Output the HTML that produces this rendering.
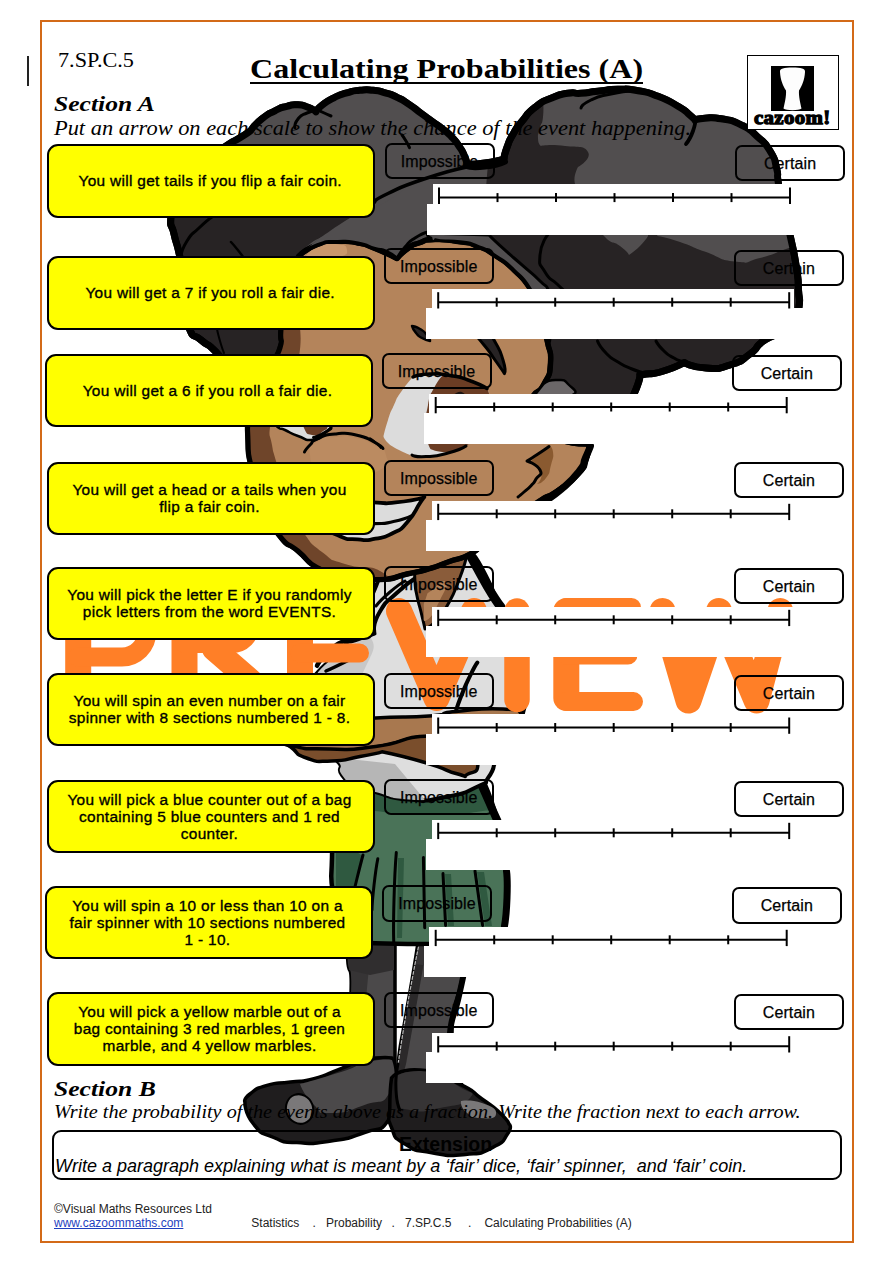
<!DOCTYPE html>
<html><head><meta charset="utf-8"><title>Calculating Probabilities (A)</title>
<style>
html,body{margin:0;padding:0;background:#fff;}
body{width:892px;height:1263px;position:relative;overflow:hidden;font-family:"Liberation Sans",sans-serif;color:#000;}
.abs,.w,.lb,.yb,.sc{position:absolute;}
.frame{left:40px;top:20px;width:809.5px;height:1219px;border:2px solid #d36a18;}
.w{background:#fff;}
.lb{width:106px;height:32.3px;border:2px solid #000;border-radius:7px;font-size:16px;line-height:33.5px;text-align:center;-webkit-text-stroke:0.25px #000;letter-spacing:0.1px;white-space:nowrap;}
.yb{width:324px;height:69.5px;border:2px solid #000;border-radius:11px;background:#ffff00;display:flex;align-items:center;justify-content:center;text-align:center;font-size:15.4px;line-height:17px;-webkit-text-stroke:0.35px #000;letter-spacing:0.33px;white-space:nowrap;}
.ser{font-family:"Liberation Serif",serif;white-space:nowrap;transform-origin:0 0;}
.t{white-space:nowrap;}
</style></head><body>
<svg class="abs" id="char" style="left:0;top:0" width="892" height="1263" viewBox="0 0 892 1263"><g stroke-linejoin="round" stroke-linecap="round">
<path d="M347.7 935.0C347.7 935.0 395.0 935.0 395.0 935.0C395.0 935.0 395.0 951.0 395.0 1000.0C395.0 1049.0 395.0 1082.0 395.0 1082.0C395.0 1082.0 395.0 1092.3 380.0 1100.0C365.0 1107.7 366.7 1108.3 350.0 1105.0C333.3 1101.7 330.0 1090.0 330.0 1090.0C330.0 1090.0 337.0 1100.0 344.0 1068.0C351.0 1036.0 349.8 1030.0 351.0 994.0C352.2 958.0 348.8 979.7 347.7 960.0C346.6 940.3 347.7 935.0 347.7 935.0Z" fill="#4b494a" stroke="#000" stroke-width="3.5" />
<path d="M347.7 940.0C347.7 940.0 372.0 940.0 372.0 940.0C372.0 940.0 369.3 963.3 366.0 1000.0C362.7 1036.7 369.0 1025.0 362.0 1050.0C355.0 1075.0 345.0 1075.0 345.0 1075.0C345.0 1075.0 342.0 1095.0 344.0 1068.0C346.0 1041.0 349.8 1030.0 351.0 994.0C352.2 958.0 348.8 978.0 347.7 960.0C346.6 942.0 347.7 940.0 347.7 940.0Z" fill="#363435" stroke="none" />
<path d="M418.4 940.0C418.4 940.0 470.0 940.0 470.0 940.0C470.0 940.0 468.0 948.0 462.0 979.0C456.0 1010.0 452.0 997.7 452.0 1033.0C452.0 1068.3 462.0 1085.0 462.0 1085.0C462.0 1085.0 451.3 1098.3 430.0 1100.0C408.7 1101.7 398.0 1090.0 398.0 1090.0C398.0 1090.0 395.7 1088.1 398.0 1064.8C400.3 1041.5 400.3 1048.3 405.0 1020.0C409.7 991.7 407.5 1006.7 412.0 980.0C416.5 953.3 418.4 940.0 418.4 940.0Z" fill="#4b494a" stroke="#000" stroke-width="3.5" />
<path d="M418.4 945.0 L427.0 945.0 L420.0 985.0 L413.0 1025.0 L406.0 1064.0 L399.0 1090.0 L398.0 1064.8 L405.0 1020.0 L412.0 980.0Z" fill="#2b292a" stroke="none"/>
<path d="M419.0 944.0 L470.0 944.0 L466.0 962.0 L440.0 968.0 L416.0 964.0Z" fill="#363435" stroke="none"/>
<path d="M463.5 975.0C463.5 975.0 462.5 980.7 458.0 1000.0C453.5 1019.3 452.0 1013.0 450.0 1033.0C448.0 1053.0 452.0 1060.0 452.0 1060.0" fill="none" stroke="#000" stroke-width="6" />
<path d="M418.4 947.0C418.4 947.0 416.5 955.7 412.0 980.0C407.5 1004.3 409.7 991.7 405.0 1020.0C400.3 1048.3 398.0 1064.8 398.0 1064.8" fill="none" stroke="#bbb" stroke-width="1.2" stroke-dasharray="3 2"/>
<path d="M348.0 942.0 L394.0 942.0 L394.0 970.0 L370.0 975.0 L349.0 970.0Z" fill="#302e2f" stroke="none"/>
<path d="M245.0 1102.0C245.0 1102.0 242.7 1099.5 250.0 1094.0C257.3 1088.5 253.5 1089.4 267.0 1085.4C280.5 1081.4 274.8 1084.2 290.5 1082.0C306.2 1079.8 297.2 1083.2 314.0 1078.7C330.8 1074.2 324.2 1074.8 341.0 1068.6C357.8 1062.4 347.5 1063.5 364.5 1060.0C381.5 1056.5 392.0 1058.0 392.0 1058.0C392.0 1058.0 393.3 1073.1 392.0 1094.0C390.7 1114.9 397.2 1107.9 388.0 1120.7C378.8 1133.5 383.5 1125.7 364.5 1132.5C345.5 1139.3 353.5 1137.6 331.0 1141.0C308.5 1144.4 316.1 1143.8 297.0 1142.6C277.9 1141.4 288.2 1143.7 273.7 1137.5C259.2 1131.3 263.1 1135.8 253.5 1124.0C243.9 1112.2 245.0 1102.0 245.0 1102.0Z" fill="#1f1d1e" stroke="#000" stroke-width="3.5" />
<path d="M300.0 1084.0C300.0 1084.0 318.3 1079.3 341.0 1072.0C363.7 1064.7 351.0 1066.0 368.0 1062.0C385.0 1058.0 392.0 1060.0 392.0 1060.0C392.0 1060.0 399.2 1077.0 390.0 1092.0C380.8 1107.0 384.2 1098.0 364.5 1105.0C344.8 1112.0 347.8 1113.0 331.0 1113.0C314.2 1113.0 324.3 1114.7 314.0 1105.0C303.7 1095.3 300.0 1084.0 300.0 1084.0Z" fill="#4b494a" stroke="none" />
<ellipse cx="299.6" cy="1109" rx="13.5" ry="15" fill="#7a7879" stroke="#000" stroke-width="2" transform="rotate(-20 299.6 1109)"/>
<path d="M391.5 1078.0C391.5 1078.0 397.6 1068.1 420.0 1070.0C442.4 1071.9 438.0 1074.0 458.7 1083.7C479.4 1093.4 468.6 1089.6 482.0 1099.0C495.4 1108.4 490.0 1103.7 499.0 1112.0C508.0 1120.3 509.0 1124.0 509.0 1124.0C509.0 1124.0 513.0 1126.1 507.5 1134.0C502.0 1141.9 506.4 1140.8 492.4 1147.6C478.4 1154.4 485.7 1152.7 465.5 1154.4C445.3 1156.1 452.0 1156.2 431.8 1152.7C411.6 1149.2 418.4 1152.4 405.0 1144.0C391.6 1135.6 396.6 1139.8 391.5 1127.5C386.4 1115.2 389.8 1123.5 389.8 1107.0C389.8 1090.5 391.5 1078.0 391.5 1078.0Z" fill="#1f1d1e" stroke="#000" stroke-width="3.5" />
<path d="M398.0 1075.0C398.0 1075.0 410.0 1068.3 430.0 1072.0C450.0 1075.7 444.7 1077.3 458.0 1086.0C471.3 1094.7 476.0 1090.7 470.0 1098.0C464.0 1105.3 460.0 1104.0 440.0 1108.0C420.0 1112.0 424.0 1112.7 410.0 1110.0C396.0 1107.3 402.0 1111.7 398.0 1100.0C394.0 1088.3 398.0 1075.0 398.0 1075.0Z" fill="#363435" stroke="none" />
<path d="M461.0 1101.0C461.0 1101.0 470.3 1098.7 482.0 1103.0C493.7 1107.3 496.7 1109.0 496.0 1114.0C495.3 1119.0 490.0 1118.7 480.0 1118.0C470.0 1117.3 472.3 1117.7 466.0 1112.0C459.7 1106.3 461.0 1101.0 461.0 1101.0Z" fill="#7a7879" stroke="none" />
<path d="M398.0 1064.0C398.0 1064.0 395.3 1074.7 396.0 1090.0C396.7 1105.3 400.0 1110.0 400.0 1110.0" fill="none" stroke="#000" stroke-width="3" />
<path d="M347.0 780.0C347.0 780.0 480.0 775.0 480.0 775.0C480.0 775.0 488.2 787.3 497.0 819.3C505.8 851.3 503.8 835.8 506.5 871.0C509.2 906.2 506.5 901.7 505.0 925.0C503.5 948.3 502.0 941.0 502.0 941.0C502.0 941.0 472.3 944.0 420.0 944.0C367.7 944.0 345.0 941.0 345.0 941.0C345.0 941.0 338.3 928.0 334.0 900.0C329.7 872.0 331.3 887.0 332.0 857.0C332.7 827.0 331.0 835.7 336.0 810.0C341.0 784.3 347.0 780.0 347.0 780.0Z" fill="#4a7358" stroke="#000" stroke-width="4.5" />
<clipPath id="sk"><path d="M347.0 780.0C347.0 780.0 480.0 775.0 480.0 775.0C480.0 775.0 488.2 787.3 497.0 819.3C505.8 851.3 503.8 835.8 506.5 871.0C509.2 906.2 506.5 901.7 505.0 925.0C503.5 948.3 502.0 941.0 502.0 941.0C502.0 941.0 472.3 944.0 420.0 944.0C367.7 944.0 345.0 941.0 345.0 941.0C345.0 941.0 338.3 928.0 334.0 900.0C329.7 872.0 331.3 887.0 332.0 857.0C332.7 827.0 331.0 835.7 336.0 810.0C341.0 784.3 347.0 780.0 347.0 780.0Z"/></clipPath>
<g clip-path="url(#sk)">
<path d="M330.0 770.0C330.0 770.0 500.0 770.0 500.0 770.0C500.0 770.0 498.3 792.3 492.5 806.0C486.7 819.7 502.4 808.2 482.6 811.0C462.8 813.8 468.9 814.5 433.0 814.5C397.1 814.5 406.0 814.5 375.0 811.0C344.0 807.5 355.0 817.7 340.0 804.0C325.0 790.3 330.0 770.0 330.0 770.0Z" fill="#2f5940" stroke="none" />
<path d="M336.0 845.0C336.0 845.0 343.3 846.3 352.0 850.0C360.7 853.7 362.0 856.0 362.0 856.0C362.0 856.0 360.0 865.3 356.0 880.0C352.0 894.7 356.7 893.3 350.0 900.0C343.3 906.7 336.0 900.0 336.0 900.0C336.0 900.0 336.0 845.0 336.0 845.0Z" fill="#2f5940" stroke="none" />
</g>
<path d="M363.0 855.0C363.0 855.0 360.7 863.5 357.0 878.5C353.3 893.5 352.0 900.0 352.0 900.0" fill="none" stroke="#000" stroke-width="3" />
<path d="M377.8 858.8C377.8 858.8 375.9 868.3 374.0 885.4C372.1 902.5 372.0 910.0 372.0 910.0" fill="none" stroke="#000" stroke-width="3" />
<path d="M396.3 852.6C396.3 852.6 394.8 870.0 394.0 900.0C393.2 930.0 393.8 942.6 393.8 942.6" fill="none" stroke="#000" stroke-width="3" />
<path d="M423.4 857.5C423.4 857.5 424.7 927.8 424.7 927.8" fill="none" stroke="#000" stroke-width="3" />
<path d="M443.0 873.6C443.0 873.6 445.6 925.4 445.6 925.4" fill="none" stroke="#000" stroke-width="3" />
<path d="M475.0 871.0C475.0 871.0 482.6 925.4 482.6 925.4" fill="none" stroke="#000" stroke-width="3" />
<path d="M481.0 784.0C481.0 784.0 483.5 789.7 489.0 802.0C494.5 814.3 497.5 821.0 497.5 821.0" fill="none" stroke="#000" stroke-width="8" />
<path d="M506.5 871.0C506.5 871.0 507.7 879.7 507.0 898.0C506.3 916.3 504.5 926.0 504.5 926.0" fill="none" stroke="#000" stroke-width="7" />
<path d="M398.0 858.0 L404.0 858.0 L402.0 938.0 L397.0 938.0Z" fill="#2f5940" stroke="none"/>
<path d="M445.0 874.0 L451.0 874.0 L454.0 926.0 L448.0 926.0Z" fill="#2f5940" stroke="none"/>
<path d="M477.0 872.0 L484.0 872.0 L492.0 926.0 L485.0 926.0Z" fill="#2f5940" stroke="none"/>
<path d="M380.0 575.0C380.0 575.0 376.7 586.7 365.0 610.0C353.3 633.3 360.7 624.3 345.0 645.0C329.3 665.7 334.3 653.7 318.0 672.0C301.7 690.3 307.3 683.3 296.0 700.0C284.7 716.7 284.0 722.0 284.0 722.0C284.0 722.0 292.7 735.3 310.0 748.0C327.3 760.7 325.3 751.0 336.0 760.0C346.7 769.0 335.3 766.3 342.0 775.0C348.7 783.7 344.8 780.3 356.0 786.0C367.2 791.7 358.0 787.5 375.5 792.0C393.0 796.5 385.2 797.8 408.6 799.5C432.0 801.2 422.6 801.3 445.6 797.0C468.6 792.7 463.6 792.8 477.7 786.5C491.8 780.2 482.6 785.2 488.0 778.0C493.4 770.8 494.0 765.0 494.0 765.0C494.0 765.0 498.3 757.3 508.0 740.0C517.7 722.7 518.7 729.7 523.0 713.0C527.3 696.3 525.0 711.0 521.0 690.0C517.0 669.0 518.9 678.7 511.0 650.0C503.1 621.3 505.6 628.7 497.3 604.0C489.0 579.3 494.2 592.8 486.0 576.0C477.8 559.2 472.6 553.6 472.6 553.6C472.6 553.6 460.9 552.9 430.0 560.0C399.1 567.1 380.0 575.0 380.0 575.0Z" fill="#dedede" stroke="#000" stroke-width="4" />
<clipPath id="sh"><path d="M380.0 575.0C380.0 575.0 376.7 586.7 365.0 610.0C353.3 633.3 360.7 624.3 345.0 645.0C329.3 665.7 334.3 653.7 318.0 672.0C301.7 690.3 307.3 683.3 296.0 700.0C284.7 716.7 284.0 722.0 284.0 722.0C284.0 722.0 292.7 735.3 310.0 748.0C327.3 760.7 325.3 751.0 336.0 760.0C346.7 769.0 335.3 766.3 342.0 775.0C348.7 783.7 344.8 780.3 356.0 786.0C367.2 791.7 358.0 787.5 375.5 792.0C393.0 796.5 385.2 797.8 408.6 799.5C432.0 801.2 422.6 801.3 445.6 797.0C468.6 792.7 463.6 792.8 477.7 786.5C491.8 780.2 482.6 785.2 488.0 778.0C493.4 770.8 494.0 765.0 494.0 765.0C494.0 765.0 498.3 757.3 508.0 740.0C517.7 722.7 518.7 729.7 523.0 713.0C527.3 696.3 525.0 711.0 521.0 690.0C517.0 669.0 518.9 678.7 511.0 650.0C503.1 621.3 505.6 628.7 497.3 604.0C489.0 579.3 494.2 592.8 486.0 576.0C477.8 559.2 472.6 553.6 472.6 553.6C472.6 553.6 460.9 552.9 430.0 560.0C399.1 567.1 380.0 575.0 380.0 575.0Z"/></clipPath>
<g clip-path="url(#sh)">
<path d="M300.0 740.0 L339.5 758.0 L395.0 764.0 L425.0 800.0 L340.0 805.0 L300.0 770.0Z" fill="#b6b6b6" stroke="none"/>
<path d="M318.0 672.0C318.0 672.0 327.0 660.7 345.0 650.0C363.0 639.3 367.0 630.0 372.0 640.0C377.0 650.0 370.7 653.3 360.0 680.0C349.3 706.7 361.3 703.3 340.0 720.0C318.7 736.7 303.3 746.0 296.0 730.0C288.7 714.0 318.0 672.0 318.0 672.0Z" fill="#c8c8c8" stroke="none" />
</g>
<path d="M419.0 576.0C419.0 576.0 410.7 580.3 397.6 592.3C384.5 604.3 387.5 598.9 379.7 612.0C371.9 625.1 374.3 631.7 374.3 631.7" fill="none" stroke="#000" stroke-width="4" />
<path d="M405.0 581.0C405.0 581.0 399.7 583.7 390.0 592.0C380.3 600.3 376.0 606.0 376.0 606.0" fill="none" stroke="#000" stroke-width="3" />
<path d="M374.3 633.5C374.3 633.5 368.2 635.8 355.0 640.0C341.8 644.2 347.5 637.4 334.8 646.0C322.1 654.6 317.0 665.8 317.0 665.8" fill="none" stroke="#000" stroke-width="4.5" />
<path d="M362.0 653.0C362.0 653.0 357.0 656.0 345.0 662.0C333.0 668.0 326.0 671.0 326.0 671.0" fill="none" stroke="#000" stroke-width="3.5" />
<path d="M470.0 555.0C470.0 555.0 473.7 562.0 481.0 575.0C488.3 588.0 485.3 583.3 492.0 594.0C498.7 604.7 501.0 607.0 501.0 607.0" fill="none" stroke="#000" stroke-width="9" />
<path d="M477.4 662.6C477.4 662.6 475.1 665.5 470.0 676.0C464.9 686.5 466.7 682.3 462.0 694.0C457.3 705.7 456.0 711.0 456.0 711.0" fill="none" stroke="#000" stroke-width="4" />
<path d="M415.0 566.0C415.0 566.0 467.0 554.0 467.0 554.0C467.0 554.0 465.7 562.7 459.0 580.0C452.3 597.3 454.7 592.3 447.0 606.0C439.3 619.7 443.3 613.3 436.0 621.0C428.7 628.7 425.0 629.0 425.0 629.0C425.0 629.0 423.7 623.0 421.0 612.0C418.3 601.0 419.0 606.0 417.0 596.0C415.0 586.0 415.7 592.0 415.0 582.0C414.3 572.0 415.0 566.0 415.0 566.0Z" fill="#8a5c3a" stroke="#000" stroke-width="3" />
<path d="M432.0 590.0C438.7 584.7 443.3 578.7 446.0 582.0C448.7 585.3 446.3 587.3 440.0 600.0C433.7 612.7 432.3 616.7 427.0 620.0C421.7 623.3 424.3 617.3 424.0 610.0C423.7 602.7 423.3 604.7 426.0 598.0C428.7 591.3 425.3 595.3 432.0 590.0Z" fill="#b4845b" stroke="none" />
<path d="M285.0 726.0C285.0 726.0 299.8 724.7 330.0 722.0C360.2 719.3 342.5 720.0 375.5 718.0C408.5 716.0 402.2 718.2 429.0 716.0C455.8 713.8 431.3 713.8 456.0 711.5C480.7 709.2 480.7 707.8 503.0 709.0C525.3 710.2 514.0 708.0 523.0 715.0C532.0 722.0 532.7 719.0 530.0 730.0C527.3 741.0 535.0 743.3 515.0 748.0C495.0 752.7 498.3 747.8 470.0 744.0C441.7 740.2 461.5 735.5 430.0 736.5C398.5 737.5 408.8 742.5 375.5 747.0C342.2 751.5 358.5 750.3 330.0 750.0C301.5 749.7 308.0 751.7 290.0 746.0C272.0 740.3 277.7 739.7 276.0 733.0C274.3 726.3 285.0 726.0 285.0 726.0Z" fill="#a8784f" stroke="#000" stroke-width="3.5" />
<path d="M276.0 735.0C276.0 735.0 280.6 739.3 290.8 747.0C301.0 754.7 292.9 753.3 306.5 758.0C320.1 762.7 313.8 761.5 331.6 761.0C349.4 760.5 343.2 759.6 360.0 756.5C376.8 753.4 382.0 751.8 382.0 751.8C382.0 751.8 400.8 755.5 425.8 762.8C450.8 770.1 442.9 770.1 457.0 773.8C471.1 777.5 461.0 777.3 468.0 774.0C475.0 770.7 477.3 774.0 478.0 764.0C478.7 754.0 486.0 753.3 470.0 744.0C454.0 734.7 461.5 735.2 430.0 736.0C398.5 736.8 408.8 742.2 375.5 746.5C342.2 750.8 358.5 749.5 330.0 749.0C301.5 748.5 308.0 749.7 290.0 745.0C272.0 740.3 276.0 735.0 276.0 735.0Z" fill="#7a4e2c" stroke="#000" stroke-width="3.5" />
<path d="M174.0 234.0C171.3 221.7 169.7 230.0 171.0 216.0C172.3 202.0 168.3 208.7 178.0 192.0C187.7 175.3 184.7 180.9 200.0 166.0C215.3 151.1 210.7 156.7 224.0 147.3C237.3 137.9 231.0 143.5 240.0 137.8C249.0 132.1 251.0 130.3 251.0 130.3C251.0 130.3 254.0 125.3 262.0 118.8C270.0 112.3 266.7 115.0 275.0 110.8C283.3 106.6 279.3 108.3 287.0 106.3C294.7 104.3 291.0 104.5 298.0 104.8C305.0 105.1 302.0 105.0 308.0 107.3C314.0 109.6 316.0 111.8 316.0 111.8C316.0 111.8 316.0 110.0 322.0 105.3C328.0 100.6 325.7 102.0 334.0 97.8C342.3 93.6 338.3 95.3 347.0 92.8C355.7 90.3 351.3 91.1 360.0 90.3C368.7 89.5 364.7 89.5 373.0 90.3C381.3 91.1 377.0 90.5 385.0 92.8C393.0 95.1 389.0 93.5 397.0 97.3C405.0 101.1 401.0 99.0 409.0 104.3C417.0 109.6 413.3 107.6 421.0 113.3C428.7 119.0 424.7 116.0 432.0 121.3C439.3 126.6 436.3 124.0 443.0 129.3C449.7 134.6 446.7 131.6 452.0 137.3C457.3 143.0 455.0 140.4 459.0 146.3C463.0 152.2 461.3 149.1 464.0 155.0C466.7 160.9 467.0 164.0 467.0 164.0C467.0 164.0 472.7 164.7 485.0 163.0C497.3 161.3 504.0 159.0 504.0 159.0C504.0 159.0 504.0 155.5 507.0 147.3C510.0 139.1 508.0 143.0 513.0 134.3C518.0 125.6 514.7 130.3 522.0 121.3C529.3 112.3 525.3 115.0 535.0 107.3C544.7 99.6 540.0 103.0 551.0 98.3C562.0 93.6 558.0 95.0 568.0 93.3C578.0 91.6 571.0 94.0 581.0 93.3C591.0 92.6 585.7 92.6 598.0 91.3C610.3 90.0 604.7 89.5 618.0 89.3C631.3 89.1 624.7 88.5 638.0 90.8C651.3 93.1 644.7 91.1 658.0 96.3C671.3 101.5 667.3 100.0 678.0 106.3C688.7 112.6 684.3 110.6 690.0 115.3C695.7 120.0 695.0 120.3 695.0 120.3C695.0 120.3 696.3 118.8 705.0 118.3C713.7 117.8 709.0 116.6 721.0 118.8C733.0 121.0 729.0 119.0 741.0 124.8C753.0 130.6 747.3 127.6 757.0 136.3C766.7 145.0 763.5 140.4 770.0 151.0C776.5 161.6 773.7 157.0 776.5 168.0C779.3 179.0 776.0 170.0 778.5 184.0C781.0 198.0 780.2 193.0 784.0 210.0C787.8 227.0 785.8 215.7 790.0 235.0C794.2 254.3 793.7 249.7 796.5 268.0C799.3 286.3 797.7 277.0 798.5 290.0C799.3 303.0 800.5 296.7 799.0 307.0C797.5 317.3 801.0 312.3 794.0 321.0C787.0 329.7 788.7 326.0 778.0 333.0C767.3 340.0 771.3 335.0 762.0 342.0C752.7 349.0 760.7 346.3 750.0 354.0C739.3 361.7 744.7 360.3 730.0 365.0C715.3 369.7 721.2 368.8 706.0 368.0C690.8 367.2 684.4 362.5 684.4 362.5C684.4 362.5 674.8 367.7 662.0 371.5C649.2 375.3 653.3 372.8 646.0 374.0C638.7 375.2 640.0 375.0 640.0 375.0C640.0 375.0 640.7 379.0 634.0 394.0C627.3 409.0 636.3 404.7 620.0 420.0C603.7 435.3 625.0 430.0 585.0 440.0C545.0 450.0 561.7 450.0 500.0 450.0C438.3 450.0 466.7 453.3 400.0 440.0C333.3 426.7 350.0 427.3 300.0 410.0C250.0 392.7 272.7 400.7 250.0 388.0C227.3 375.3 243.3 384.0 232.0 372.0C220.7 360.0 226.3 362.7 216.0 352.0C205.7 341.3 209.8 347.7 201.0 340.0C192.2 332.3 194.5 340.7 189.5 329.0C184.5 317.3 188.2 323.0 186.0 305.0C183.8 287.0 185.3 292.3 183.0 275.0C180.7 257.7 182.0 266.7 179.0 253.0C176.0 239.3 176.7 246.3 174.0 234.0Z" fill="#272324" stroke="#000" stroke-width="7" />
<clipPath id="hc"><path d="M174.0 234.0C171.3 221.7 169.7 230.0 171.0 216.0C172.3 202.0 168.3 208.7 178.0 192.0C187.7 175.3 184.7 180.9 200.0 166.0C215.3 151.1 210.7 156.7 224.0 147.3C237.3 137.9 231.0 143.5 240.0 137.8C249.0 132.1 251.0 130.3 251.0 130.3C251.0 130.3 254.0 125.3 262.0 118.8C270.0 112.3 266.7 115.0 275.0 110.8C283.3 106.6 279.3 108.3 287.0 106.3C294.7 104.3 291.0 104.5 298.0 104.8C305.0 105.1 302.0 105.0 308.0 107.3C314.0 109.6 316.0 111.8 316.0 111.8C316.0 111.8 316.0 110.0 322.0 105.3C328.0 100.6 325.7 102.0 334.0 97.8C342.3 93.6 338.3 95.3 347.0 92.8C355.7 90.3 351.3 91.1 360.0 90.3C368.7 89.5 364.7 89.5 373.0 90.3C381.3 91.1 377.0 90.5 385.0 92.8C393.0 95.1 389.0 93.5 397.0 97.3C405.0 101.1 401.0 99.0 409.0 104.3C417.0 109.6 413.3 107.6 421.0 113.3C428.7 119.0 424.7 116.0 432.0 121.3C439.3 126.6 436.3 124.0 443.0 129.3C449.7 134.6 446.7 131.6 452.0 137.3C457.3 143.0 455.0 140.4 459.0 146.3C463.0 152.2 461.3 149.1 464.0 155.0C466.7 160.9 467.0 164.0 467.0 164.0C467.0 164.0 472.7 164.7 485.0 163.0C497.3 161.3 504.0 159.0 504.0 159.0C504.0 159.0 504.0 155.5 507.0 147.3C510.0 139.1 508.0 143.0 513.0 134.3C518.0 125.6 514.7 130.3 522.0 121.3C529.3 112.3 525.3 115.0 535.0 107.3C544.7 99.6 540.0 103.0 551.0 98.3C562.0 93.6 558.0 95.0 568.0 93.3C578.0 91.6 571.0 94.0 581.0 93.3C591.0 92.6 585.7 92.6 598.0 91.3C610.3 90.0 604.7 89.5 618.0 89.3C631.3 89.1 624.7 88.5 638.0 90.8C651.3 93.1 644.7 91.1 658.0 96.3C671.3 101.5 667.3 100.0 678.0 106.3C688.7 112.6 684.3 110.6 690.0 115.3C695.7 120.0 695.0 120.3 695.0 120.3C695.0 120.3 696.3 118.8 705.0 118.3C713.7 117.8 709.0 116.6 721.0 118.8C733.0 121.0 729.0 119.0 741.0 124.8C753.0 130.6 747.3 127.6 757.0 136.3C766.7 145.0 763.5 140.4 770.0 151.0C776.5 161.6 773.7 157.0 776.5 168.0C779.3 179.0 776.0 170.0 778.5 184.0C781.0 198.0 780.2 193.0 784.0 210.0C787.8 227.0 785.8 215.7 790.0 235.0C794.2 254.3 793.7 249.7 796.5 268.0C799.3 286.3 797.7 277.0 798.5 290.0C799.3 303.0 800.5 296.7 799.0 307.0C797.5 317.3 801.0 312.3 794.0 321.0C787.0 329.7 788.7 326.0 778.0 333.0C767.3 340.0 771.3 335.0 762.0 342.0C752.7 349.0 760.7 346.3 750.0 354.0C739.3 361.7 744.7 360.3 730.0 365.0C715.3 369.7 721.2 368.8 706.0 368.0C690.8 367.2 684.4 362.5 684.4 362.5C684.4 362.5 674.8 367.7 662.0 371.5C649.2 375.3 653.3 372.8 646.0 374.0C638.7 375.2 640.0 375.0 640.0 375.0C640.0 375.0 640.7 379.0 634.0 394.0C627.3 409.0 636.3 404.7 620.0 420.0C603.7 435.3 625.0 430.0 585.0 440.0C545.0 450.0 561.7 450.0 500.0 450.0C438.3 450.0 466.7 453.3 400.0 440.0C333.3 426.7 350.0 427.3 300.0 410.0C250.0 392.7 272.7 400.7 250.0 388.0C227.3 375.3 243.3 384.0 232.0 372.0C220.7 360.0 226.3 362.7 216.0 352.0C205.7 341.3 209.8 347.7 201.0 340.0C192.2 332.3 194.5 340.7 189.5 329.0C184.5 317.3 188.2 323.0 186.0 305.0C183.8 287.0 185.3 292.3 183.0 275.0C180.7 257.7 182.0 266.7 179.0 253.0C176.0 239.3 176.7 246.3 174.0 234.0Z"/></clipPath>
<g clip-path="url(#hc)">
<path d="M200.0 150.0C200.0 150.0 196.7 140.0 230.0 120.0C263.3 100.0 243.3 101.7 300.0 90.0C356.7 78.3 340.0 68.3 400.0 85.0C460.0 101.7 450.3 115.7 480.0 140.0C509.7 164.3 489.0 158.0 489.0 158.0C489.0 158.0 487.7 164.0 486.0 190.0C484.3 216.0 484.0 236.0 484.0 236.0C484.0 236.0 458.0 228.7 430.0 236.0C402.0 243.3 426.0 256.7 400.0 258.0C374.0 259.3 377.0 247.3 352.0 240.0C327.0 232.7 342.7 230.7 325.0 236.0C307.3 241.3 299.0 256.0 299.0 256.0C299.0 256.0 299.7 254.0 310.0 246.0C320.3 238.0 316.0 241.7 330.0 232.0C344.0 222.3 352.0 217.0 352.0 217.0C352.0 217.0 200.0 150.0 200.0 150.0Z" fill="#514e4f" stroke="none" />
<path d="M543.0 100.0C543.0 100.0 534.3 95.3 560.0 90.0C585.7 84.7 573.3 80.7 620.0 84.0C666.7 87.3 643.3 81.3 700.0 100.0C756.7 118.7 756.7 106.7 790.0 140.0C823.3 173.3 796.7 164.7 800.0 200.0C803.3 235.3 803.7 230.0 800.0 246.0C796.3 262.0 802.3 244.0 789.0 248.0C775.7 252.0 778.0 253.5 760.0 258.0C742.0 262.5 753.5 263.8 735.0 261.6C716.5 259.4 722.9 258.0 704.6 251.5C686.3 245.0 695.7 247.2 680.0 242.0C664.3 236.8 657.5 236.0 657.5 236.0C657.5 236.0 655.2 228.0 652.0 228.0C648.8 228.0 648.0 236.0 648.0 236.0C648.0 236.0 646.3 239.7 640.0 246.0C633.7 252.3 629.0 255.0 629.0 255.0C629.0 255.0 628.3 252.3 620.0 246.0C611.7 239.7 614.0 246.3 604.0 236.0C594.0 225.7 590.0 215.0 590.0 215.0C590.0 215.0 590.0 200.3 585.0 190.0C580.0 179.7 577.3 191.7 575.0 184.0C572.7 176.3 578.0 167.0 578.0 167.0C578.0 167.0 592.3 159.0 588.0 152.0C583.7 145.0 580.7 148.0 565.0 146.0C549.3 144.0 541.0 146.0 541.0 146.0C541.0 146.0 538.3 145.0 538.0 139.0C537.7 133.0 538.3 135.3 540.0 128.0C541.7 120.7 542.0 126.3 543.0 117.0C544.0 107.7 543.0 100.0 543.0 100.0Z" fill="#514e4f" stroke="none" />
</g>
<path d="M174.0 234.0C171.3 221.7 169.7 230.0 171.0 216.0C172.3 202.0 168.3 208.7 178.0 192.0C187.7 175.3 184.7 180.9 200.0 166.0C215.3 151.1 210.7 156.7 224.0 147.3C237.3 137.9 231.0 143.5 240.0 137.8C249.0 132.1 251.0 130.3 251.0 130.3C251.0 130.3 254.0 125.3 262.0 118.8C270.0 112.3 266.7 115.0 275.0 110.8C283.3 106.6 279.3 108.3 287.0 106.3C294.7 104.3 291.0 104.5 298.0 104.8C305.0 105.1 302.0 105.0 308.0 107.3C314.0 109.6 316.0 111.8 316.0 111.8C316.0 111.8 316.0 110.0 322.0 105.3C328.0 100.6 325.7 102.0 334.0 97.8C342.3 93.6 338.3 95.3 347.0 92.8C355.7 90.3 351.3 91.1 360.0 90.3C368.7 89.5 364.7 89.5 373.0 90.3C381.3 91.1 377.0 90.5 385.0 92.8C393.0 95.1 389.0 93.5 397.0 97.3C405.0 101.1 401.0 99.0 409.0 104.3C417.0 109.6 413.3 107.6 421.0 113.3C428.7 119.0 424.7 116.0 432.0 121.3C439.3 126.6 436.3 124.0 443.0 129.3C449.7 134.6 446.7 131.6 452.0 137.3C457.3 143.0 455.0 140.4 459.0 146.3C463.0 152.2 461.3 149.1 464.0 155.0C466.7 160.9 467.0 164.0 467.0 164.0C467.0 164.0 472.7 164.7 485.0 163.0C497.3 161.3 504.0 159.0 504.0 159.0C504.0 159.0 504.0 155.5 507.0 147.3C510.0 139.1 508.0 143.0 513.0 134.3C518.0 125.6 514.7 130.3 522.0 121.3C529.3 112.3 525.3 115.0 535.0 107.3C544.7 99.6 540.0 103.0 551.0 98.3C562.0 93.6 558.0 95.0 568.0 93.3C578.0 91.6 571.0 94.0 581.0 93.3C591.0 92.6 585.7 92.6 598.0 91.3C610.3 90.0 604.7 89.5 618.0 89.3C631.3 89.1 624.7 88.5 638.0 90.8C651.3 93.1 644.7 91.1 658.0 96.3C671.3 101.5 667.3 100.0 678.0 106.3C688.7 112.6 684.3 110.6 690.0 115.3C695.7 120.0 695.0 120.3 695.0 120.3C695.0 120.3 696.3 118.8 705.0 118.3C713.7 117.8 709.0 116.6 721.0 118.8C733.0 121.0 729.0 119.0 741.0 124.8C753.0 130.6 747.3 127.6 757.0 136.3C766.7 145.0 763.5 140.4 770.0 151.0C776.5 161.6 773.7 157.0 776.5 168.0C779.3 179.0 776.0 170.0 778.5 184.0C781.0 198.0 780.2 193.0 784.0 210.0C787.8 227.0 785.8 215.7 790.0 235.0C794.2 254.3 793.7 249.7 796.5 268.0C799.3 286.3 797.7 277.0 798.5 290.0C799.3 303.0 800.5 296.7 799.0 307.0C797.5 317.3 801.0 312.3 794.0 321.0C787.0 329.7 788.7 326.0 778.0 333.0C767.3 340.0 771.3 335.0 762.0 342.0C752.7 349.0 760.7 346.3 750.0 354.0C739.3 361.7 744.7 360.3 730.0 365.0C715.3 369.7 721.2 368.8 706.0 368.0C690.8 367.2 684.4 362.5 684.4 362.5C684.4 362.5 674.8 367.7 662.0 371.5C649.2 375.3 653.3 372.8 646.0 374.0C638.7 375.2 640.0 375.0 640.0 375.0C640.0 375.0 640.7 379.0 634.0 394.0C627.3 409.0 636.3 404.7 620.0 420.0C603.7 435.3 625.0 430.0 585.0 440.0C545.0 450.0 561.7 450.0 500.0 450.0C438.3 450.0 466.7 453.3 400.0 440.0C333.3 426.7 350.0 427.3 300.0 410.0C250.0 392.7 272.7 400.7 250.0 388.0C227.3 375.3 243.3 384.0 232.0 372.0C220.7 360.0 226.3 362.7 216.0 352.0C205.7 341.3 209.8 347.7 201.0 340.0C192.2 332.3 194.5 340.7 189.5 329.0C184.5 317.3 188.2 323.0 186.0 305.0C183.8 287.0 185.3 292.3 183.0 275.0C180.7 257.7 182.0 266.7 179.0 253.0C176.0 239.3 176.7 246.3 174.0 234.0Z" fill="none" stroke="#000" stroke-width="7"/>
<path d="M466.0 166.0C466.0 166.0 472.0 168.0 485.0 166.5C498.0 165.0 505.0 161.5 505.0 161.5" fill="none" stroke="#000" stroke-width="6" />
<path d="M402.0 135.0C402.0 135.0 403.5 136.8 406.0 141.0C408.5 145.2 409.5 147.6 409.5 147.6" fill="none" stroke="#000" stroke-width="3" />
<path d="M316.0 109.0C316.0 109.0 317.0 109.7 322.0 112.0C327.0 114.3 331.0 116.0 331.0 116.0" fill="none" stroke="#000" stroke-width="3" />
<path d="M295.0 128.0C295.0 128.0 294.0 124.0 298.0 119.0C302.0 114.0 300.3 115.7 307.0 113.0C313.7 110.3 318.0 111.0 318.0 111.0" fill="none" stroke="#000" stroke-width="3" />
<path d="M581.0 108.0C581.0 108.0 581.0 104.7 591.0 100.0C601.0 95.3 597.3 97.0 611.0 94.0C624.7 91.0 632.0 91.0 632.0 91.0" fill="none" stroke="#000" stroke-width="3" />
<path d="M695.0 119.0C695.0 119.0 696.0 122.7 693.0 131.0C690.0 139.3 686.0 144.0 686.0 144.0" fill="none" stroke="#000" stroke-width="3.8" />
<path d="M181.0 257.0C181.0 257.0 181.0 250.7 187.0 241.0C193.0 231.3 190.7 236.0 199.0 228.0C207.3 220.0 212.0 217.0 212.0 217.0" fill="none" stroke="#000" stroke-width="3" />
<path d="M231.0 242.0C231.0 242.0 233.2 244.3 237.0 249.0C240.8 253.7 242.5 256.0 242.5 256.0" fill="none" stroke="#000" stroke-width="2.5" />
<path d="M217.0 329.0C217.0 329.0 217.7 333.0 220.0 341.0C222.3 349.0 224.0 353.0 224.0 353.0" fill="none" stroke="#000" stroke-width="2" />
<path d="M547.6 235.0C547.6 235.0 540.9 242.7 540.0 255.0C539.1 267.3 539.3 262.3 545.0 272.0C550.7 281.7 550.0 277.3 557.0 284.0C564.0 290.7 566.0 292.0 566.0 292.0" fill="none" stroke="#000" stroke-width="3" />
<path d="M597.5 341.0C597.5 341.0 599.2 346.0 606.0 353.0C612.8 360.0 609.3 356.7 618.0 362.0C626.7 367.3 623.0 365.3 632.0 369.0C641.0 372.7 645.0 373.0 645.0 373.0" fill="none" stroke="#000" stroke-width="3" />
<path d="M656.0 341.0C656.0 341.0 658.0 345.3 664.0 351.0C670.0 356.7 668.3 354.7 674.0 358.0C679.7 361.3 681.0 361.0 681.0 361.0" fill="none" stroke="#000" stroke-width="3" />
<path d="M299.0 256.0C299.0 256.0 305.0 249.3 318.0 244.5C331.0 239.7 324.7 242.0 338.0 241.5C351.3 241.0 345.7 240.7 358.0 243.0C370.3 245.3 362.0 243.3 375.0 248.5C388.0 253.7 397.0 258.5 397.0 258.5C397.0 258.5 400.7 253.7 408.0 248.5C415.3 243.3 410.0 246.0 419.0 243.0C428.0 240.0 421.3 240.0 435.0 239.6C448.7 239.2 445.7 239.6 460.0 241.8C474.3 244.0 466.0 241.6 478.0 246.3C490.0 251.0 484.0 248.1 496.0 256.0C508.0 263.9 502.3 258.7 514.0 270.0C525.7 281.3 522.0 276.0 531.0 290.0C540.0 304.0 535.7 295.3 541.0 312.0C546.3 328.7 543.8 323.0 547.0 340.0C550.2 357.0 551.5 348.3 550.5 363.0C549.5 377.7 549.8 373.0 544.0 384.0C538.2 395.0 538.7 388.0 533.0 396.0C527.3 404.0 527.0 408.0 527.0 408.0C527.0 408.0 534.0 419.3 545.0 430.0C556.0 440.7 545.3 435.3 560.0 440.0C574.7 444.7 589.0 444.0 589.0 444.0C589.0 444.0 589.5 450.1 586.0 460.0C582.5 469.9 587.8 463.4 578.5 473.6C569.2 483.8 571.5 481.0 558.0 490.5C544.5 500.0 552.3 492.2 538.0 502.0C523.7 511.8 532.3 507.0 515.0 520.0C497.7 533.0 500.7 529.8 486.0 541.0C471.3 552.2 483.7 546.6 471.0 553.6C458.3 560.6 461.9 557.0 448.0 562.0C434.1 567.0 443.1 564.6 429.4 568.6C415.7 572.6 423.5 570.4 407.0 574.0C390.5 577.6 398.3 579.2 380.0 579.5C361.7 579.8 367.7 578.2 352.0 575.0C336.3 571.8 344.7 572.5 333.0 570.0C321.3 567.5 328.7 573.7 317.0 567.4C305.3 561.1 310.7 561.8 298.0 551.0C285.3 540.2 291.0 550.3 279.0 535.0C267.0 519.7 271.0 526.7 262.0 505.0C253.0 483.3 256.7 491.7 252.0 470.0C247.3 448.3 248.7 460.0 248.0 440.0C247.3 420.0 246.7 428.3 250.0 410.0C253.3 391.7 251.3 400.0 258.0 385.0C264.7 370.0 262.7 377.3 270.0 365.0C277.3 352.7 276.3 359.7 280.0 348.0C283.7 336.3 279.7 346.0 281.0 330.0C282.3 314.0 281.0 318.3 284.0 300.0C287.0 281.7 285.0 289.7 290.0 275.0C295.0 260.3 299.0 256.0 299.0 256.0Z" fill="#b4845b" stroke="#000" stroke-width="5.5" />
<clipPath id="fc"><path d="M299.0 256.0C299.0 256.0 305.0 249.3 318.0 244.5C331.0 239.7 324.7 242.0 338.0 241.5C351.3 241.0 345.7 240.7 358.0 243.0C370.3 245.3 362.0 243.3 375.0 248.5C388.0 253.7 397.0 258.5 397.0 258.5C397.0 258.5 400.7 253.7 408.0 248.5C415.3 243.3 410.0 246.0 419.0 243.0C428.0 240.0 421.3 240.0 435.0 239.6C448.7 239.2 445.7 239.6 460.0 241.8C474.3 244.0 466.0 241.6 478.0 246.3C490.0 251.0 484.0 248.1 496.0 256.0C508.0 263.9 502.3 258.7 514.0 270.0C525.7 281.3 522.0 276.0 531.0 290.0C540.0 304.0 535.7 295.3 541.0 312.0C546.3 328.7 543.8 323.0 547.0 340.0C550.2 357.0 551.5 348.3 550.5 363.0C549.5 377.7 549.8 373.0 544.0 384.0C538.2 395.0 538.7 388.0 533.0 396.0C527.3 404.0 527.0 408.0 527.0 408.0C527.0 408.0 534.0 419.3 545.0 430.0C556.0 440.7 545.3 435.3 560.0 440.0C574.7 444.7 589.0 444.0 589.0 444.0C589.0 444.0 589.5 450.1 586.0 460.0C582.5 469.9 587.8 463.4 578.5 473.6C569.2 483.8 571.5 481.0 558.0 490.5C544.5 500.0 552.3 492.2 538.0 502.0C523.7 511.8 532.3 507.0 515.0 520.0C497.7 533.0 500.7 529.8 486.0 541.0C471.3 552.2 483.7 546.6 471.0 553.6C458.3 560.6 461.9 557.0 448.0 562.0C434.1 567.0 443.1 564.6 429.4 568.6C415.7 572.6 423.5 570.4 407.0 574.0C390.5 577.6 398.3 579.2 380.0 579.5C361.7 579.8 367.7 578.2 352.0 575.0C336.3 571.8 344.7 572.5 333.0 570.0C321.3 567.5 328.7 573.7 317.0 567.4C305.3 561.1 310.7 561.8 298.0 551.0C285.3 540.2 291.0 550.3 279.0 535.0C267.0 519.7 271.0 526.7 262.0 505.0C253.0 483.3 256.7 491.7 252.0 470.0C247.3 448.3 248.7 460.0 248.0 440.0C247.3 420.0 246.7 428.3 250.0 410.0C253.3 391.7 251.3 400.0 258.0 385.0C264.7 370.0 262.7 377.3 270.0 365.0C277.3 352.7 276.3 359.7 280.0 348.0C283.7 336.3 279.7 346.0 281.0 330.0C282.3 314.0 281.0 318.3 284.0 300.0C287.0 281.7 285.0 289.7 290.0 275.0C295.0 260.3 299.0 256.0 299.0 256.0Z"/></clipPath>
<g clip-path="url(#fc)">
<path d="M278.0 322.0C278.0 322.0 299.0 322.0 299.0 322.0C299.0 322.0 302.7 336.7 299.0 356.0C295.3 375.3 295.7 362.0 288.0 380.0C280.3 398.0 282.0 394.3 276.0 410.0C270.0 425.7 271.3 415.3 270.0 427.0C268.7 438.7 270.0 433.7 272.0 445.0C274.0 456.3 272.0 446.0 276.0 461.0C280.0 476.0 278.7 473.0 284.0 490.0C289.3 507.0 285.7 498.0 292.0 512.0C298.3 526.0 293.0 518.7 303.0 532.0C313.0 545.3 308.0 541.3 322.0 552.0C336.0 562.7 325.7 557.7 345.0 564.0C364.3 570.3 368.3 564.0 380.0 571.0C391.7 578.0 396.7 582.0 380.0 585.0C363.3 588.0 360.0 588.3 330.0 580.0C300.0 571.7 312.7 580.0 290.0 560.0C267.3 540.0 277.0 550.0 262.0 520.0C247.0 490.0 251.0 503.3 245.0 470.0C239.0 436.7 240.7 450.0 244.0 420.0C247.3 390.0 245.7 403.3 255.0 380.0C264.3 356.7 264.3 369.3 272.0 350.0C279.7 330.7 278.0 322.0 278.0 322.0Z" fill="#6f452a" stroke="none" />
<path d="M306.0 256.0C306.0 256.0 308.0 251.0 318.0 247.0C328.0 243.0 326.3 243.0 336.0 244.0C345.7 245.0 346.3 245.3 347.0 250.0C347.7 254.7 347.0 254.0 338.0 258.0C329.0 262.0 330.7 262.7 320.0 262.0C309.3 261.3 306.0 256.0 306.0 256.0Z" fill="#c9986d" stroke="none" />
<path d="M318.0 441.0C326.7 435.0 323.3 438.0 336.0 437.0C348.7 436.0 343.3 435.3 356.0 438.0C368.7 440.7 364.0 439.3 374.0 445.0C384.0 450.7 384.0 446.7 386.0 455.0C388.0 463.3 392.0 463.3 380.0 470.0C368.0 476.7 369.3 475.7 350.0 475.0C330.7 474.3 335.3 474.7 322.0 468.0C308.7 461.3 311.3 464.0 310.0 455.0C308.7 446.0 309.3 447.0 318.0 441.0Z" fill="#bb8b61" stroke="none" />
<path d="M549.0 446.0C549.0 446.0 552.3 445.7 553.0 452.0C553.7 458.3 553.3 456.3 551.0 465.0C548.7 473.7 550.7 471.7 546.0 478.0C541.3 484.3 537.0 484.0 537.0 484.0C537.0 484.0 543.3 479.3 541.0 472.0C538.7 464.7 530.0 462.0 530.0 462.0C530.0 462.0 549.0 446.0 549.0 446.0Z" fill="#8a5a30" stroke="none" />
</g>
<path d="M299.0 256.0C299.0 256.0 305.0 249.3 318.0 244.5C331.0 239.7 324.7 242.0 338.0 241.5C351.3 241.0 345.7 240.7 358.0 243.0C370.3 245.3 362.0 243.3 375.0 248.5C388.0 253.7 397.0 258.5 397.0 258.5C397.0 258.5 400.7 253.7 408.0 248.5C415.3 243.3 410.0 246.0 419.0 243.0C428.0 240.0 421.3 240.0 435.0 239.6C448.7 239.2 445.7 239.6 460.0 241.8C474.3 244.0 466.0 241.6 478.0 246.3C490.0 251.0 484.0 248.1 496.0 256.0C508.0 263.9 502.3 258.7 514.0 270.0C525.7 281.3 522.0 276.0 531.0 290.0C540.0 304.0 535.7 295.3 541.0 312.0C546.3 328.7 543.8 323.0 547.0 340.0C550.2 357.0 551.5 348.3 550.5 363.0C549.5 377.7 549.8 373.0 544.0 384.0C538.2 395.0 538.7 388.0 533.0 396.0C527.3 404.0 527.0 408.0 527.0 408.0C527.0 408.0 534.0 419.3 545.0 430.0C556.0 440.7 545.3 435.3 560.0 440.0C574.7 444.7 589.0 444.0 589.0 444.0C589.0 444.0 589.5 450.1 586.0 460.0C582.5 469.9 587.8 463.4 578.5 473.6C569.2 483.8 571.5 481.0 558.0 490.5C544.5 500.0 552.3 492.2 538.0 502.0C523.7 511.8 532.3 507.0 515.0 520.0C497.7 533.0 500.7 529.8 486.0 541.0C471.3 552.2 483.7 546.6 471.0 553.6C458.3 560.6 461.9 557.0 448.0 562.0C434.1 567.0 443.1 564.6 429.4 568.6C415.7 572.6 423.5 570.4 407.0 574.0C390.5 577.6 398.3 579.2 380.0 579.5C361.7 579.8 367.7 578.2 352.0 575.0C336.3 571.8 344.7 572.5 333.0 570.0C321.3 567.5 328.7 573.7 317.0 567.4C305.3 561.1 310.7 561.8 298.0 551.0C285.3 540.2 291.0 550.3 279.0 535.0C267.0 519.7 271.0 526.7 262.0 505.0C253.0 483.3 256.7 491.7 252.0 470.0C247.3 448.3 248.7 460.0 248.0 440.0C247.3 420.0 246.7 428.3 250.0 410.0C253.3 391.7 251.3 400.0 258.0 385.0C264.7 370.0 262.7 377.3 270.0 365.0C277.3 352.7 276.3 359.7 280.0 348.0C283.7 336.3 279.7 346.0 281.0 330.0C282.3 314.0 281.0 318.3 284.0 300.0C287.0 281.7 285.0 289.7 290.0 275.0C295.0 260.3 299.0 256.0 299.0 256.0Z" fill="none" stroke="#000" stroke-width="5"/>
<path d="M590.5 446.0C590.5 446.0 589.2 449.6 585.4 458.0C581.6 466.4 587.1 460.8 579.0 471.3C570.9 481.8 573.0 479.4 561.0 489.5C549.0 499.6 543.0 501.6 543.0 501.6" fill="none" stroke="#000" stroke-width="7" />
<path d="M549.0 446.5C549.0 446.5 545.3 449.2 538.0 454.0C530.7 458.8 527.0 461.0 527.0 461.0C527.0 461.0 537.0 464.0 540.0 470.0C543.0 476.0 539.0 473.8 536.0 479.0C533.0 484.2 535.0 481.4 531.0 485.7C527.0 490.0 528.3 488.2 524.0 492.0C519.7 495.8 518.0 497.0 518.0 497.0" fill="none" stroke="#000" stroke-width="3" />
<path d="M489.0 235.0C489.0 235.0 493.3 239.6 504.5 249.7C515.7 259.8 510.7 255.0 522.5 265.4C534.3 275.8 531.2 272.1 540.0 281.0C548.8 289.9 545.0 282.3 549.0 292.0C553.0 301.7 551.7 295.3 552.0 310.0C552.3 324.7 550.0 336.0 550.0 336.0C550.0 336.0 550.0 348.0 547.0 340.0C544.0 332.0 546.3 328.7 541.0 312.0C535.7 295.3 540.0 304.0 531.0 290.0C522.0 276.0 525.7 281.3 514.0 270.0C502.3 258.7 508.0 263.9 496.0 256.0C484.0 248.1 490.0 251.0 478.0 246.3C466.0 241.6 474.3 244.0 460.0 241.8C445.7 239.6 445.7 242.5 435.0 239.6C424.3 236.7 428.0 233.0 428.0 233.0C428.0 233.0 489.0 235.0 489.0 235.0Z" fill="#514e4f" stroke="#000" stroke-width="3" />
<path d="M543.7 383.8C543.7 383.8 547.9 379.9 556.0 380.0C564.1 380.1 563.3 378.7 568.0 384.0C572.7 389.3 581.3 392.0 570.0 396.0C558.7 400.0 534.0 396.0 534.0 396.0C534.0 396.0 543.7 383.8 543.7 383.8Z" fill="#6b6768" stroke="#000" stroke-width="2.5" />
<path d="M352.0 217.0C352.0 217.0 354.7 217.3 380.0 205.0C405.3 192.7 406.3 181.7 428.0 180.0C449.7 178.3 445.0 200.0 445.0 200.0C445.0 200.0 441.7 225.0 436.0 236.0C430.3 247.0 435.0 232.3 428.0 233.0C421.0 233.7 422.7 233.3 415.0 238.0C407.3 242.7 411.0 240.2 405.0 247.0C399.0 253.8 397.0 258.5 397.0 258.5C397.0 258.5 393.3 254.3 386.0 251.0C378.7 247.7 384.3 251.2 375.0 248.5C365.7 245.8 370.3 245.3 358.0 243.0C345.7 240.7 351.3 241.0 338.0 241.5C324.7 242.0 331.0 239.7 318.0 244.5C305.0 249.3 299.0 256.0 299.0 256.0C299.0 256.0 299.7 254.3 310.0 246.0C320.3 237.7 316.0 240.7 330.0 231.0C344.0 221.3 352.0 217.0 352.0 217.0Z" fill="#514e4f" stroke="none" />
<path d="M299.0 256.0C299.0 256.0 305.0 249.3 318.0 244.5C331.0 239.7 324.7 242.0 338.0 241.5C351.3 241.0 345.7 240.7 358.0 243.0C370.3 245.3 365.7 245.8 375.0 248.5C384.3 251.2 378.7 247.7 386.0 251.0C393.3 254.3 397.0 258.5 397.0 258.5" fill="none" stroke="#000" stroke-width="3" />
<path d="M397.0 258.5C397.0 258.5 399.0 253.8 405.0 247.0C411.0 240.2 407.3 243.0 415.0 238.0C422.7 233.0 428.0 232.0 428.0 232.0" fill="none" stroke="#000" stroke-width="3" />
<path d="M374.7 202.0C374.7 202.0 371.6 201.2 388.0 193.5C404.4 185.8 397.7 187.8 424.0 179.0C450.3 170.2 467.0 167.0 467.0 167.0" fill="none" stroke="#000" stroke-width="3.5" />
<path d="M462.0 300.0C462.0 300.0 469.3 304.7 480.0 318.0C490.7 331.3 486.3 326.0 494.0 340.0C501.7 354.0 499.5 348.8 503.0 360.0C506.5 371.2 504.5 373.6 504.5 373.6C504.5 373.6 501.8 369.5 495.0 360.0C488.2 350.5 492.3 355.0 484.0 345.0C475.7 335.0 479.7 339.0 470.0 330.0C460.3 321.0 457.7 328.0 455.0 318.0C452.3 308.0 462.0 300.0 462.0 300.0Z" fill="#272324" stroke="#000" stroke-width="3" />
<path d="M412.0 326.0C412.0 326.0 415.0 326.0 420.0 329.0C425.0 332.0 423.7 331.0 427.0 335.0C430.3 339.0 430.0 341.0 430.0 341.0C430.0 341.0 426.7 340.7 422.0 338.0C417.3 335.3 419.3 337.0 416.0 333.0C412.7 329.0 412.0 326.0 412.0 326.0Z" fill="#272324" stroke="#000" stroke-width="2.5" />
<path d="M413.0 377.0C413.0 377.0 417.7 374.5 430.0 374.0C442.3 373.5 437.3 373.5 450.0 375.5C462.7 377.5 455.7 375.7 468.0 380.0C480.3 384.3 487.0 388.5 487.0 388.5C487.0 388.5 491.7 395.5 490.0 410.0C488.3 424.5 490.0 420.0 482.0 432.0C474.0 444.0 477.3 439.0 466.0 446.0C454.7 453.0 461.3 449.5 448.0 453.0C434.7 456.5 442.3 457.6 426.0 456.6C409.7 455.6 413.2 456.7 399.0 450.0C384.8 443.3 383.5 436.4 383.5 436.4C383.5 436.4 384.5 430.5 388.0 420.0C391.5 409.5 389.7 414.3 394.0 405.0C398.3 395.7 394.7 401.3 401.0 392.0C407.3 382.7 413.0 377.0 413.0 377.0Z" fill="#dcdcdc" stroke="none" />
<clipPath id="er"><path d="M413.0 377.0C413.0 377.0 417.7 374.5 430.0 374.0C442.3 373.5 437.3 373.5 450.0 375.5C462.7 377.5 455.7 375.7 468.0 380.0C480.3 384.3 487.0 388.5 487.0 388.5C487.0 388.5 491.7 395.5 490.0 410.0C488.3 424.5 490.0 420.0 482.0 432.0C474.0 444.0 477.3 439.0 466.0 446.0C454.7 453.0 461.3 449.5 448.0 453.0C434.7 456.5 442.3 457.6 426.0 456.6C409.7 455.6 413.2 456.7 399.0 450.0C384.8 443.3 383.5 436.4 383.5 436.4C383.5 436.4 384.5 430.5 388.0 420.0C391.5 409.5 389.7 414.3 394.0 405.0C398.3 395.7 394.7 401.3 401.0 392.0C407.3 382.7 413.0 377.0 413.0 377.0Z"/></clipPath>
<g clip-path="url(#er)">
<path d="M444.0 374.0C444.0 374.0 454.0 373.3 470.0 378.0C486.0 382.7 484.0 374.0 492.0 388.0C500.0 402.0 498.7 401.3 494.0 420.0C489.3 438.7 491.0 433.3 478.0 444.0C465.0 454.7 470.8 450.3 455.0 452.0C439.2 453.7 430.5 449.0 430.5 449.0C430.5 449.0 426.8 444.7 426.0 430.0C425.2 415.3 425.3 419.0 428.0 405.0C430.7 391.0 428.7 398.3 434.0 388.0C439.3 377.7 444.0 374.0 444.0 374.0Z" fill="#6b3d24" stroke="none" />
<path d="M452.0 396.0C461.3 388.7 461.3 391.7 470.0 398.0C478.7 404.3 478.0 403.7 478.0 415.0C478.0 426.3 478.7 425.0 470.0 432.0C461.3 439.0 461.3 440.0 452.0 436.0C442.7 432.0 442.0 433.3 442.0 420.0C442.0 406.7 442.7 403.3 452.0 396.0Z" fill="#1a1412" stroke="none" />
</g>
<path d="M413.0 377.0C413.0 377.0 417.7 374.5 430.0 374.0C442.3 373.5 437.3 373.5 450.0 375.5C462.7 377.5 455.7 375.7 468.0 380.0C480.3 384.3 487.0 388.5 487.0 388.5" fill="none" stroke="#000" stroke-width="3.5" />
<path d="M412.0 455.0C412.0 455.0 414.0 457.3 426.0 456.6C438.0 455.9 434.7 456.5 448.0 453.0C461.3 449.5 466.0 446.0 466.0 446.0" fill="none" stroke="#000" stroke-width="3" />
<path d="M270.0 418.0C270.0 418.0 275.0 413.3 290.0 412.0C305.0 410.7 300.7 410.0 315.0 414.0C329.3 418.0 333.0 424.0 333.0 424.0C333.0 424.0 332.5 426.8 326.0 432.0C319.5 437.2 322.8 438.4 313.5 439.7C304.2 441.0 307.5 439.2 298.0 436.0C288.5 432.8 291.8 433.0 285.0 430.0C278.2 427.0 282.6 431.0 277.6 427.0C272.6 423.0 270.0 418.0 270.0 418.0Z" fill="#dcdcdc" stroke="#000" stroke-width="2.5" />
<path d="M302.0 415.0C302.0 415.0 309.7 411.0 318.0 414.0C326.3 417.0 325.7 418.0 327.0 424.0C328.3 430.0 327.0 428.3 322.0 432.0C317.0 435.7 318.0 436.3 312.0 435.0C306.0 433.7 307.3 434.7 304.0 428.0C300.7 421.3 302.0 415.0 302.0 415.0Z" fill="#6b3d24" stroke="none" />
<path d="M313.5 437.4C313.5 437.4 316.2 437.0 322.0 434.0C327.8 431.0 331.0 428.5 331.0 428.5" fill="none" stroke="#000" stroke-width="3" />
<path d="M304.5 452.0C304.5 452.0 305.5 449.5 310.0 445.0C314.5 440.5 309.3 442.2 318.0 438.5C326.7 434.8 323.3 435.2 336.0 434.0C348.7 432.8 343.3 432.3 356.0 435.0C368.7 437.7 365.0 437.5 374.0 442.0C383.0 446.5 383.0 448.6 383.0 448.6" fill="none" stroke="#000" stroke-width="3" />
<path d="M370.0 438.6C370.0 438.6 372.3 440.0 376.0 443.0C379.7 446.0 381.0 447.6 381.0 447.6" fill="none" stroke="#000" stroke-width="2.5" />
<path d="M300.0 490.0C300.0 490.0 305.7 495.9 330.0 500.0C354.3 504.1 351.1 501.6 373.0 502.4C394.9 503.2 378.7 504.0 395.7 502.4C412.7 500.8 424.0 497.5 424.0 497.5C424.0 497.5 426.1 494.0 420.4 502.4C414.7 510.8 416.0 512.5 407.0 522.6C398.0 532.7 404.0 527.3 393.5 532.7C383.0 538.1 387.6 536.5 375.6 538.7C363.6 540.9 370.3 540.6 357.6 539.4C344.9 538.2 351.6 541.5 337.4 535.0C323.2 528.5 327.5 535.0 315.0 520.0C302.5 505.0 300.0 490.0 300.0 490.0Z" fill="#dcdcdc" stroke="#000" stroke-width="3.8" />
<path d="M320.0 516.0C320.0 516.0 331.9 520.4 350.0 523.0C368.1 525.6 359.9 524.2 374.4 523.7C388.9 523.2 381.2 524.1 393.5 521.5C405.8 518.9 411.4 515.9 411.4 515.9" fill="none" stroke="#000" stroke-width="3.2" />
</g></svg>
<svg class="abs" id="pv" style="left:0;top:0" width="892" height="1263" viewBox="0 0 892 1263"><g fill="none" stroke="#ff7f27" stroke-linecap="round" stroke-linejoin="round">
<g stroke-width="26"><path d="M78.2 611V698"/><path d="M184.5 611V698"/><path d="M300 611V698"/><path d="M399 611L436.5 698L474 611"/><path d="M517 611V699.5" stroke-width="25.5"/><path d="M566.3 611V698"/><path d="M662.5 611L688.5 700.5L719 611L756.6 700.5L780.3 611"/></g>
<g stroke-width="24"><path d="M214 649L252 682"/></g>
<g stroke-width="19"><path d="M78 607.5H122A24.7 24.7 0 0 1 122 657H78"/><path d="M184.5 607.5H232A18 18 0 0 1 232 643.5H184.5"/><path d="M300 607.5H360M300 653H359.5M300 701.5H362"/><path d="M566.3 607.5H631.5M566.3 655H628M566.3 701.6H633.5"/></g>
</g></svg>
<div class="abs frame"></div>
<div class="abs" style="left:27px;top:56px;width:1.5px;height:30px;background:#222"></div>
<div class="abs ser" id="code" style="left:58px;top:49px;font-size:20px;transform:scaleX(1.11);">7.SP.C.5</div>
<div class="abs ser" id="title" style="left:250px;top:54px;font-size:26.5px;font-weight:bold;transform:scaleX(1.21);">Calculating Probabilities (A)</div>
<div class="abs" style="left:250px;top:81.5px;width:393px;height:2px;background:#000"></div>
<div class="abs ser" id="secA" style="left:54px;top:92px;font-size:21px;font-weight:bold;font-style:italic;transform:scaleX(1.22);">Section A</div>
<div class="abs ser" id="insA" style="left:54px;top:115.5px;font-size:21px;font-style:italic;transform:scaleX(1.066);">Put an arrow on each scale to show the chance of the event happening.</div>
<!-- logo -->
<div class="abs" style="left:747px;top:55px;width:90px;height:73px;border:1px solid #000;background:#fff"></div>
<div class="abs" style="left:771px;top:66px;width:43px;height:45px;background:#000"></div>
<svg class="abs" style="left:771px;top:66px" width="43" height="45" viewBox="0 0 43 45"><path d="M9 6 C8.5 2.5 13 1.5 21.5 1.5 C30 1.5 34.5 2.5 34 6 C33.5 14 31 20 28 24.5 C27.5 30 29.5 38 30.5 42.5 C28 44.8 15 44.8 12.5 42.5 C13.5 38 15.5 30 15 24.5 C12 20 9.5 14 9 6 Z" fill="#fdfdfd"/></svg>
<div class="abs ser" id="cz" style="left:753.5px;top:106.5px;font-size:19.5px;font-weight:bold;-webkit-text-stroke:1.3px #000;letter-spacing:0.3px;transform:scaleX(1.07);">cazoom!</div>
<div class="w" style="left:432.7px;top:184.4px;width:362px;height:21px"></div>
<div class="w" style="left:427.0px;top:203.6px;width:380px;height:31px"></div>
<svg class="sc" width="892" height="1263" style="left:0;top:0"><g stroke="#000" stroke-width="2" fill="none"><line x1="439.0" y1="197.6" x2="790.0" y2="197.6"/><line x1="439.0" y1="187.6" x2="439.0" y2="203.9"/><line x1="790.0" y1="187.6" x2="790.0" y2="203.9"/><line x1="497.5" y1="193.1" x2="497.5" y2="202.1"/><line x1="556.0" y1="193.1" x2="556.0" y2="202.1"/><line x1="614.5" y1="193.1" x2="614.5" y2="202.1"/><line x1="673.0" y1="193.1" x2="673.0" y2="202.1"/><line x1="731.5" y1="193.1" x2="731.5" y2="202.1"/></g></svg>
<div class="lb" style="left:384.5px;top:143.2px">Impossible</div>
<div class="lb" style="left:735.1px;top:145.2px">Certain</div>
<div class="yb" style="left:47.2px;top:144.0px"><div style="position:relative;top:-0.2px;left:-1px">You will get tails if you flip a fair coin.</div></div>
<div class="w" style="left:431.9px;top:289.0px;width:362px;height:21px"></div>
<div class="w" style="left:426.2px;top:308.2px;width:380px;height:31px"></div>
<svg class="sc" width="892" height="1263" style="left:0;top:0"><g stroke="#000" stroke-width="2" fill="none"><line x1="438.2" y1="302.2" x2="789.2" y2="302.2"/><line x1="438.2" y1="292.2" x2="438.2" y2="308.5"/><line x1="789.2" y1="292.2" x2="789.2" y2="308.5"/><line x1="496.7" y1="297.7" x2="496.7" y2="306.7"/><line x1="555.2" y1="297.7" x2="555.2" y2="306.7"/><line x1="613.7" y1="297.7" x2="613.7" y2="306.7"/><line x1="672.2" y1="297.7" x2="672.2" y2="306.7"/><line x1="730.7" y1="297.7" x2="730.7" y2="306.7"/></g></svg>
<div class="lb" style="left:383.7px;top:247.9px">Impossible</div>
<div class="lb" style="left:733.9px;top:249.9px">Certain</div>
<div class="yb" style="left:47.2px;top:256.0px"><div style="position:relative;top:-0.2px;left:-1px">You will get a 7 if you roll a fair die.</div></div>
<div class="w" style="left:429.4px;top:393.8px;width:362px;height:21px"></div>
<div class="w" style="left:423.7px;top:413.0px;width:380px;height:31px"></div>
<svg class="sc" width="892" height="1263" style="left:0;top:0"><g stroke="#000" stroke-width="2" fill="none"><line x1="435.7" y1="407.0" x2="786.7" y2="407.0"/><line x1="435.7" y1="397.0" x2="435.7" y2="413.3"/><line x1="786.7" y1="397.0" x2="786.7" y2="413.3"/><line x1="494.2" y1="402.5" x2="494.2" y2="411.5"/><line x1="552.7" y1="402.5" x2="552.7" y2="411.5"/><line x1="611.2" y1="402.5" x2="611.2" y2="411.5"/><line x1="669.7" y1="402.5" x2="669.7" y2="411.5"/><line x1="728.2" y1="402.5" x2="728.2" y2="411.5"/></g></svg>
<div class="lb" style="left:381.5px;top:353.0px">Impossible</div>
<div class="lb" style="left:731.8px;top:354.8px">Certain</div>
<div class="yb" style="left:44.5px;top:353.6px"><div style="position:relative;top:-0.2px;left:-1px">You will get a 6 if you roll a fair die.</div></div>
<div class="w" style="left:431.9px;top:500.6px;width:362px;height:21px"></div>
<div class="w" style="left:426.2px;top:519.8px;width:380px;height:31px"></div>
<svg class="sc" width="892" height="1263" style="left:0;top:0"><g stroke="#000" stroke-width="2" fill="none"><line x1="438.2" y1="513.8" x2="789.2" y2="513.8"/><line x1="438.2" y1="503.8" x2="438.2" y2="520.1"/><line x1="789.2" y1="503.8" x2="789.2" y2="520.1"/><line x1="496.7" y1="509.3" x2="496.7" y2="518.3"/><line x1="555.2" y1="509.3" x2="555.2" y2="518.3"/><line x1="613.7" y1="509.3" x2="613.7" y2="518.3"/><line x1="672.2" y1="509.3" x2="672.2" y2="518.3"/><line x1="730.7" y1="509.3" x2="730.7" y2="518.3"/></g></svg>
<div class="lb" style="left:383.7px;top:460.1px">Impossible</div>
<div class="lb" style="left:733.9px;top:462.1px">Certain</div>
<div class="yb" style="left:46.5px;top:461.5px"><div style="position:relative;top:-0.2px;left:-1px">You will get a head or a tails when you<br>flip a fair coin.</div></div>
<div class="w" style="left:431.9px;top:606.6px;width:362px;height:21px"></div>
<div class="w" style="left:426.2px;top:625.8px;width:380px;height:31px"></div>
<svg class="sc" width="892" height="1263" style="left:0;top:0"><g stroke="#000" stroke-width="2" fill="none"><line x1="438.2" y1="619.8" x2="789.2" y2="619.8"/><line x1="438.2" y1="609.8" x2="438.2" y2="626.1"/><line x1="789.2" y1="609.8" x2="789.2" y2="626.1"/><line x1="496.7" y1="615.3" x2="496.7" y2="624.3"/><line x1="555.2" y1="615.3" x2="555.2" y2="624.3"/><line x1="613.7" y1="615.3" x2="613.7" y2="624.3"/><line x1="672.2" y1="615.3" x2="672.2" y2="624.3"/><line x1="730.7" y1="615.3" x2="730.7" y2="624.3"/></g></svg>
<div class="lb" style="left:383.7px;top:566.1px">Impossible</div>
<div class="lb" style="left:733.9px;top:568.1px">Certain</div>
<div class="yb" style="left:46.5px;top:566.7px"><div style="position:relative;top:-0.2px;left:-1px">You will pick the letter E if you randomly<br>pick letters from the word EVENTS.</div></div>
<div class="w" style="left:431.9px;top:714.3px;width:362px;height:21px"></div>
<div class="w" style="left:426.2px;top:733.5px;width:380px;height:31px"></div>
<svg class="sc" width="892" height="1263" style="left:0;top:0"><g stroke="#000" stroke-width="2" fill="none"><line x1="438.2" y1="727.5" x2="789.2" y2="727.5"/><line x1="438.2" y1="717.5" x2="438.2" y2="733.8"/><line x1="789.2" y1="717.5" x2="789.2" y2="733.8"/><line x1="496.7" y1="723.0" x2="496.7" y2="732.0"/><line x1="555.2" y1="723.0" x2="555.2" y2="732.0"/><line x1="613.7" y1="723.0" x2="613.7" y2="732.0"/><line x1="672.2" y1="723.0" x2="672.2" y2="732.0"/><line x1="730.7" y1="723.0" x2="730.7" y2="732.0"/></g></svg>
<div class="lb" style="left:383.7px;top:672.6px">Impossible</div>
<div class="lb" style="left:733.9px;top:674.6px">Certain</div>
<div class="yb" style="left:46.5px;top:672.7px"><div style="position:relative;top:-0.2px;left:-1px">You will spin an even number on a fair<br>spinner with 8 sections numbered 1 - 8.</div></div>
<div class="w" style="left:431.9px;top:819.6px;width:362px;height:21px"></div>
<div class="w" style="left:426.2px;top:838.8px;width:380px;height:31px"></div>
<svg class="sc" width="892" height="1263" style="left:0;top:0"><g stroke="#000" stroke-width="2" fill="none"><line x1="438.2" y1="832.8" x2="789.2" y2="832.8"/><line x1="438.2" y1="822.8" x2="438.2" y2="839.1"/><line x1="789.2" y1="822.8" x2="789.2" y2="839.1"/><line x1="496.7" y1="828.3" x2="496.7" y2="837.3"/><line x1="555.2" y1="828.3" x2="555.2" y2="837.3"/><line x1="613.7" y1="828.3" x2="613.7" y2="837.3"/><line x1="672.2" y1="828.3" x2="672.2" y2="837.3"/><line x1="730.7" y1="828.3" x2="730.7" y2="837.3"/></g></svg>
<div class="lb" style="left:383.7px;top:778.9px">Impossible</div>
<div class="lb" style="left:733.9px;top:780.9px">Certain</div>
<div class="yb" style="left:46.5px;top:779.8px"><div style="position:relative;top:-0.2px;left:-1px">You will pick a blue counter out of a bag<br>containing 5 blue counters and 1 red<br>counter.</div></div>
<div class="w" style="left:429.4px;top:926.6px;width:362px;height:21px"></div>
<div class="w" style="left:423.7px;top:945.8px;width:380px;height:31px"></div>
<svg class="sc" width="892" height="1263" style="left:0;top:0"><g stroke="#000" stroke-width="2" fill="none"><line x1="435.7" y1="939.8" x2="786.7" y2="939.8"/><line x1="435.7" y1="929.8" x2="435.7" y2="946.1"/><line x1="786.7" y1="929.8" x2="786.7" y2="946.1"/><line x1="494.2" y1="935.3" x2="494.2" y2="944.3"/><line x1="552.7" y1="935.3" x2="552.7" y2="944.3"/><line x1="611.2" y1="935.3" x2="611.2" y2="944.3"/><line x1="669.7" y1="935.3" x2="669.7" y2="944.3"/><line x1="728.2" y1="935.3" x2="728.2" y2="944.3"/></g></svg>
<div class="lb" style="left:382.0px;top:885.3px">Impossible</div>
<div class="lb" style="left:731.8px;top:887.3px">Certain</div>
<div class="yb" style="left:44.5px;top:885.5px"><div style="position:relative;top:-0.2px;left:-1px">You will spin a 10 or less than 10 on a<br>fair spinner with 10 sections numbered<br>1 - 10.</div></div>
<div class="w" style="left:431.9px;top:1033.0px;width:362px;height:21px"></div>
<div class="w" style="left:426.2px;top:1052.2px;width:380px;height:31px"></div>
<svg class="sc" width="892" height="1263" style="left:0;top:0"><g stroke="#000" stroke-width="2" fill="none"><line x1="438.2" y1="1046.2" x2="789.2" y2="1046.2"/><line x1="438.2" y1="1036.2" x2="438.2" y2="1052.5"/><line x1="789.2" y1="1036.2" x2="789.2" y2="1052.5"/><line x1="496.7" y1="1041.7" x2="496.7" y2="1050.7"/><line x1="555.2" y1="1041.7" x2="555.2" y2="1050.7"/><line x1="613.7" y1="1041.7" x2="613.7" y2="1050.7"/><line x1="672.2" y1="1041.7" x2="672.2" y2="1050.7"/><line x1="730.7" y1="1041.7" x2="730.7" y2="1050.7"/></g></svg>
<div class="lb" style="left:383.7px;top:991.8px">Impossible</div>
<div class="lb" style="left:733.9px;top:993.8px">Certain</div>
<div class="yb" style="left:46.5px;top:992.4px"><div style="position:relative;top:-0.2px;left:-1px">You will pick a yellow marble out of a<br>bag containing 3 red marbles, 1 green<br>marble, and 4 yellow marbles.</div></div>
<div class="abs ser" id="secB" style="left:54px;top:1077px;font-size:21px;font-weight:bold;font-style:italic;transform:scaleX(1.22);">Section B</div>
<div class="abs ser" id="insB" style="left:54px;top:1101px;font-size:19.5px;font-style:italic;transform:scaleX(1.036);">Write the probability of the events above as a fraction. Write the fraction next to each arrow.</div>
<div class="abs" style="left:51.5px;top:1130px;width:786px;height:46px;border:2px solid #000;border-radius:9px;"></div>
<div class="abs t" id="ext" style="left:399px;top:1132.5px;font-size:19.5px;font-weight:bold;">Extension</div>
<div class="abs t" id="para" style="left:55px;top:1156px;font-size:18px;font-style:italic;">Write a paragraph explaining what is meant by a ‘fair’ dice, ‘fair’ spinner,&nbsp; and ‘fair’ coin.</div>
<div class="abs t" id="cp" style="left:54px;top:1202px;font-size:12px;color:#222;">©Visual Maths Resources Ltd</div>
<div class="abs t" id="url" style="left:54px;top:1216px;font-size:12px;color:#1f3fbf;text-decoration:underline;">www.cazoommaths.com</div>
<div class="abs t" id="ft" style="left:251.3px;top:1216px;font-size:12px;color:#222;">Statistics</div>
<div class="abs t" style="left:312.5px;top:1216px;font-size:12px;color:#222;">.</div>
<div class="abs t" style="left:326px;top:1216px;font-size:12px;color:#222;">Probability</div>
<div class="abs t" style="left:391.6px;top:1216px;font-size:12px;color:#222;">.</div>
<div class="abs t" style="left:405px;top:1216px;font-size:12px;color:#222;">7.SP.C.5</div>
<div class="abs t" style="left:468px;top:1216px;font-size:12px;color:#222;">.</div>
<div class="abs t" id="ft2" style="left:484.4px;top:1216px;font-size:12px;color:#222;">Calculating Probabilities (A)</div>
</body></html>
